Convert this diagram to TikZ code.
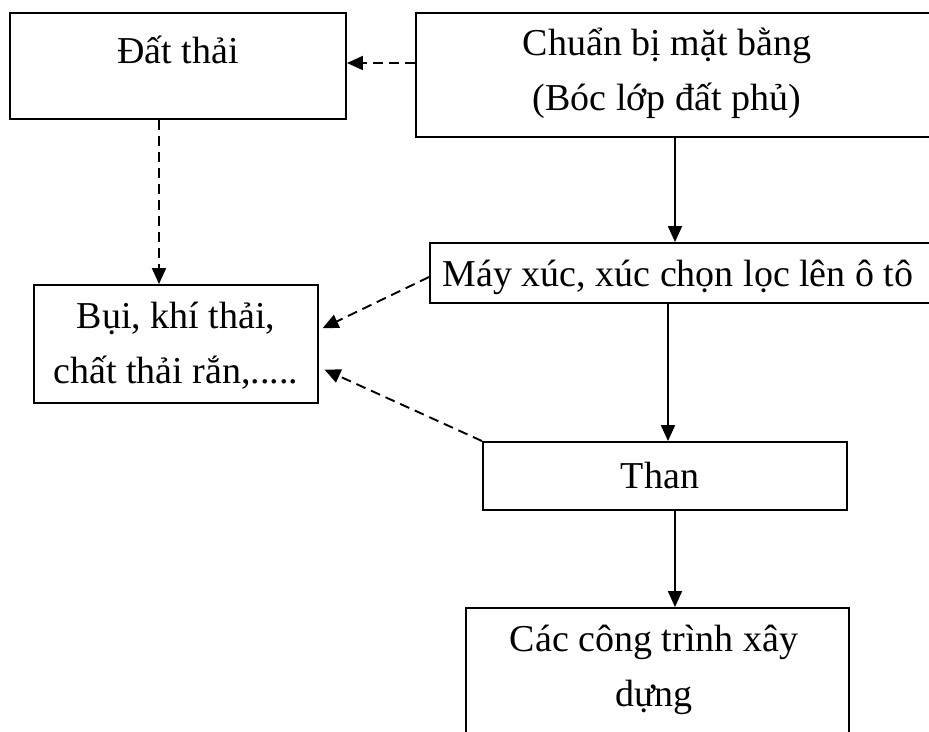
\documentclass[tikz,border=0pt]{standalone}
\usepackage{fontspec}
\setmainfont{Liberation Serif}
\usetikzlibrary{arrows.meta}
\begin{document}
\begin{tikzpicture}[x=1pt,y=-1pt,
  box/.style={draw,line width=1.9pt,inner sep=0pt,minimum width=#1},
  lbl/.style={inner sep=0pt,align=center,font=\fontsize{38}{55}\selectfont},
  sol/.style={line width=1.9pt,-{Triangle[length=16pt,width=14pt]}},
  dsh/.style={line width=1.9pt,dash pattern=on 10pt off 6pt,-{Triangle[length=16pt,width=14pt]}}]
\useasboundingbox (0,0) rectangle (929,731);
% boxes
\node[box=336pt,minimum height=106pt] (A) at (178,66) {};
\node[box=516pt,minimum height=124pt] (B) at (674,75) {};
\node[box=504pt,minimum height=60pt] (C) at (682,273) {};
\node[box=284pt,minimum height=118pt] (D) at (176,344) {};
\node[box=364pt,minimum height=68pt] (E) at (665,476) {};
\node[box=383pt,minimum height=140pt] (F) at (657.5,678) {};
% texts
\node[lbl] (tA) at (178,50) {Đất thải};
\node[lbl] (tB) at (667,73) {Chuẩn bị mặt bằng\\(Bóc lớp đất phủ)};
\node[lbl] (tC) at (678,277) {Máy xúc, xúc chọn lọc lên ô tô};
\node[lbl] (tD) at (176,346) {Bụi, khí thải,\\chất thải rắn,.....};
\node[lbl] (tE) at (660,475) {Than};
\node[lbl] (tF) at (654,670) {Các công trình xây\\dựng};
% connectors
\draw[dsh] (B.west |- 0,63) -- (A.east |- 0,63);
\draw[sol] (B.south -| 675,0) -- (C.north -| 675,0);
\draw[dsh] (A.south -| 159,0) -- (D.north -| 159,0);
\draw[dsh,shorten >=4pt] (C.west |- 0,277) -- (D.east |- 0,330);
\draw[dsh,shorten >=6pt] (E.north west) -- (D.east |- 0,367);
\draw[sol] (C.south -| 668,0) -- (E.north -| 668,0);
\draw[sol] (E.south -| 675,0) -- (F.north -| 675,0);
\end{tikzpicture}
\end{document}
